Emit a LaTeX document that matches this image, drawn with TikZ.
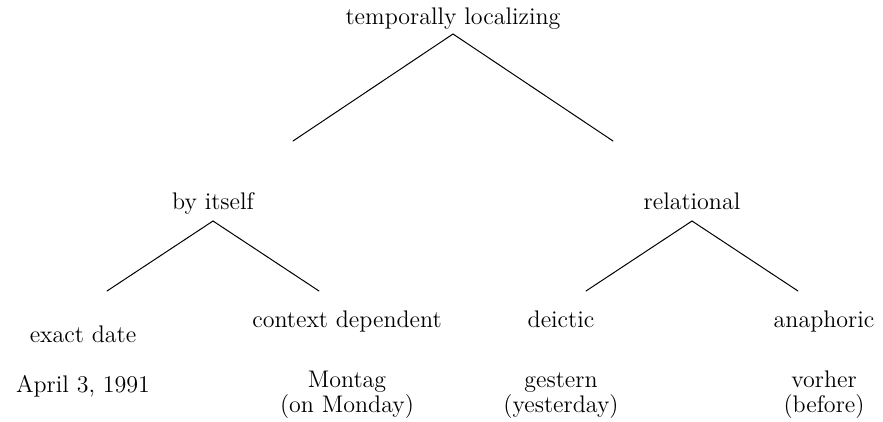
\documentclass[tikz,border=0pt]{standalone}
\begin{document}
\begin{tikzpicture}[x=0.5pt,y=-0.5pt,
  lbl/.style={inner sep=0pt,anchor=base,font=\fontsize{12}{12.5}\selectfont,align=center},
  branch/.style={line width=0.5pt,line cap=round}]
\useasboundingbox (0,0) rectangle (883,422);

% root
\node[lbl] (root) at (453,25) {temporally localizing};
\coordinate (root-top) at (453,34);
\coordinate (root-l) at (293,141);
\coordinate (root-r) at (613,141);
\draw[branch] (root-l) -- (root-top) -- (root-r);

% second level
\node[lbl] (itself) at (213,210) {by itself};
\coordinate (itself-top) at (213,221);
\coordinate (itself-l) at (107,291);
\coordinate (itself-r) at (319,291);
\draw[branch] (itself-l) -- (itself-top) -- (itself-r);

\node[lbl] (rel) at (692,210) {relational};
\coordinate (rel-top) at (692,221);
\coordinate (rel-l) at (586,291);
\coordinate (rel-r) at (798,291);
\draw[branch] (rel-l) -- (rel-top) -- (rel-r);

% leaves
\node[lbl] (exact) at (83,342) {exact date};
\node[lbl] (context) at (347,327) {context dependent};
\node[lbl] (deictic) at (561,327) {deictic};
\node[lbl] (anaphoric) at (824,327) {anaphoric};

% examples (base anchor sits on the last line)
\node[lbl] (ex-exact) at (83,392) {April 3, 1991};
\node[lbl] (ex-context) at (347,412) {Montag\\(on Monday)};
\node[lbl] (ex-deictic) at (561,412) {gestern\\(yesterday)};
\node[lbl] (ex-anaphoric) at (824,412) {vorher\\(before)};
\end{tikzpicture}
\end{document}
